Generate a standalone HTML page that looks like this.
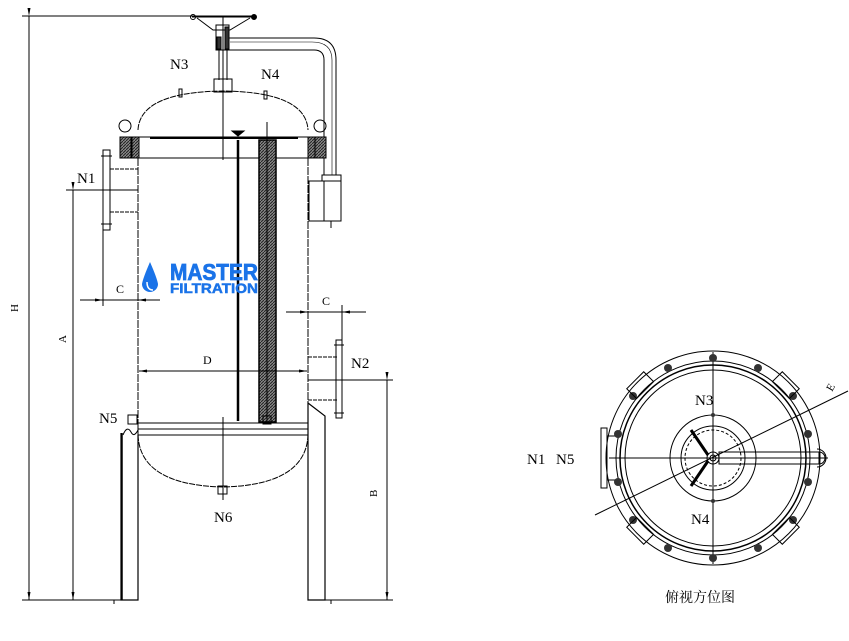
<!DOCTYPE html>
<html><head><meta charset="utf-8"><style>
body{margin:0;background:#fff;}
svg{display:block;font-family:"Liberation Serif","Noto Serif CJK SC",serif;}
</style></head><body>
<svg width="849" height="641" viewBox="0 0 849 641" xmlns="http://www.w3.org/2000/svg">
<defs>
<pattern id="h" width="3" height="3" patternUnits="userSpaceOnUse"><rect width="3" height="3" fill="#888"/><path d="M0 3L3 0" stroke="#222" stroke-width="1"/></pattern>
<marker id="a" markerWidth="8" markerHeight="6" refX="8" refY="3" orient="auto"><path d="M0 1.5L8 3L0 4.5" fill="#000"/></marker>
</defs>
<g stroke="#000" fill="none" stroke-width="1">
<line x1="22" y1="16" x2="255" y2="16"/>
<line x1="29" y1="16" x2="29" y2="600" marker-start="url(#a)" marker-end="url(#a)"/>
<line x1="22" y1="600" x2="138" y2="600"/>
<line x1="308" y1="600" x2="393" y2="600"/>
<line x1="66" y1="190" x2="138" y2="190"/>
<line x1="73" y1="190" x2="73" y2="600" marker-start="url(#a)" marker-end="url(#a)"/>
<line x1="308" y1="380" x2="393" y2="380"/>
<line x1="387" y1="380" x2="387" y2="600" marker-start="url(#a)" marker-end="url(#a)"/>
<path d="M192 17 L255 17 M197 18 L213 30 L230 30 L250 18"/>
<circle cx="193" cy="17" r="2.5"/><circle cx="254" cy="17" r="2.5" fill="#000"/>
<rect x="216" y="25" width="13" height="25"/>
<rect x="217" y="37" width="4" height="12" fill="#333"/><rect x="225" y="27" width="4" height="22" fill="#333"/>
<line x1="219" y1="50" x2="219" y2="80"/><line x1="227" y1="50" x2="227" y2="80"/>
<rect x="214" y="79" width="18" height="13"/>
<path d="M229 38 L314 38 Q336 38 336 60 L336 175"/>
<path d="M229 50 L314 50 Q324 50 324 60 L324 175"/>
<path d="M230 42 L312 42 Q332 42 332 60 L332 175" stroke-width="0.6"/>
<rect x="322" y="175" width="19" height="6"/>
<rect x="309" y="181" width="32" height="40"/>
<line x1="324" y1="181" x2="324" y2="221"/>
<line x1="331" y1="221" x2="331" y2="228"/>
<path d="M138 130 Q140 92 223 91 Q306 92 308 130" stroke-dasharray="6,1"/>
<rect x="179" y="89" width="3" height="8"/><rect x="264" y="91" width="3" height="8"/>
<line x1="223" y1="16" x2="223" y2="160"/>
<rect x="120" y="137" width="206" height="21"/>
<line x1="138" y1="137" x2="138" y2="158"/><line x1="308" y1="137" x2="308" y2="158"/>
<rect x="132" y="137" width="7" height="21" fill="url(#h)"/><rect x="308" y="137" width="7" height="21" fill="url(#h)"/>
<rect x="120" y="137" width="11" height="21" fill="url(#h)"/><rect x="315" y="137" width="11" height="21" fill="url(#h)"/>
<circle cx="125" cy="126" r="6"/><circle cx="320" cy="126" r="6"/>
<line x1="150" y1="138" x2="298" y2="138" stroke-width="2"/>
<path d="M232 131 L244 131 L238 136Z" fill="#000"/>
<line x1="138" y1="158" x2="138" y2="425" stroke-dasharray="8,1"/>
<line x1="308" y1="158" x2="308" y2="425" stroke-dasharray="8,1"/>
<line x1="238" y1="140" x2="238" y2="421" stroke-width="2.5"/>
<rect x="259" y="140" width="17" height="282" fill="url(#h)" stroke-width="1.5"/>
<line x1="267" y1="140" x2="267" y2="422"/>
<line x1="267" y1="122" x2="267" y2="140"/>
<rect x="263" y="416" width="8" height="8"/>
<rect x="138" y="423" width="170" height="12"/>
<line x1="138" y1="429" x2="308" y2="429"/>
<path d="M138 435 Q140 485 223 487 Q306 485 308 435" stroke-dasharray="6,1"/>
<rect x="218" y="486" width="9" height="8"/>
<line x1="223" y1="417" x2="223" y2="500"/>
<rect x="128" y="415" width="9" height="9"/>
<path d="M123 435 Q127 425 131 432 Q134 438 138 430"/>
<path d="M121 433 L121 600 L138 600 L138 435" stroke-width="1.2"/>
<line x1="122" y1="433" x2="122" y2="600" stroke-width="1.5"/>
<path d="M308 403 L325 416 L325 600 L308 600 Z" stroke-width="1.2"/>
<line x1="114" y1="600" x2="114" y2="604"/><line x1="331" y1="600" x2="331" y2="604"/>
<rect x="103" y="150" width="7" height="80"/>
<line x1="101" y1="156" x2="112" y2="156"/><line x1="101" y1="224" x2="112" y2="224"/>
<path d="M110 169 L138 169 M110 212 L138 212" stroke-dasharray="4,1"/>
<rect x="336" y="340" width="6" height="78"/>
<line x1="334" y1="345" x2="344" y2="345"/><line x1="334" y1="413" x2="344" y2="413"/>
<path d="M308 357 L337 357 M308 400 L337 400" stroke-dasharray="4,1"/>
<line x1="80" y1="300" x2="103" y2="300" marker-end="url(#a)"/>
<line x1="103" y1="300" x2="160" y2="300"/>
<line x1="160" y1="300" x2="138" y2="300" marker-end="url(#a)"/>
<line x1="103" y1="230" x2="103" y2="306"/>
<line x1="286" y1="312" x2="308" y2="312" marker-end="url(#a)"/>
<line x1="308" y1="312" x2="366" y2="312"/>
<line x1="366" y1="312" x2="342" y2="312" marker-end="url(#a)"/>
<line x1="342" y1="305" x2="342" y2="340"/>
<line x1="223" y1="371" x2="139" y2="371" marker-end="url(#a)"/>
<line x1="223" y1="371" x2="307" y2="371" marker-end="url(#a)"/>

<g transform="translate(713,458)">
<circle r="107"/><circle r="97"/><circle r="93" stroke-width="1.5"/><circle r="88"/>
<circle r="43"/><circle r="32"/><circle r="28" stroke-dasharray="3,2"/>
<circle r="6"/><circle r="3"/>
<line x1="-104" y1="0" x2="115" y2="0"/>
<line x1="0" y1="-106" x2="0" y2="106"/>
<rect x="6" y="-6" width="100" height="12"/>
<path d="M106 -6 A6 6 0 0 1 106 6" />
<path d="M104 -9 A9 9 0 0 1 104 9"/>
<line x1="-5" y1="-3" x2="-22" y2="-28" stroke-width="3"/>
<line x1="-5" y1="3" x2="-22" y2="28" stroke-width="3"/>
<line x1="-118" y1="57" x2="135" y2="-67"/>
<rect x="-112" y="-30" width="6" height="60"/>
<line x1="-106" y1="-22" x2="-93" y2="-22"/><line x1="-106" y1="22" x2="-93" y2="22"/>
<g fill="#333" stroke="none">
<circle cx="0" cy="-100" r="4"/><circle cx="0" cy="100" r="4"/>
<circle cx="-45" cy="-90" r="4"/><circle cx="45" cy="-90" r="4"/>
<circle cx="-45" cy="90" r="4"/><circle cx="45" cy="90" r="4"/>
<circle cx="-80" cy="-62" r="4"/><circle cx="80" cy="-62" r="4"/>
<circle cx="-80" cy="62" r="4"/><circle cx="80" cy="62" r="4"/>
<circle cx="-95" cy="-24" r="4"/><circle cx="95" cy="-24" r="4"/>
<circle cx="-95" cy="24" r="4"/><circle cx="95" cy="24" r="4"/>
<circle cx="0" cy="-43" r="2"/><circle cx="0" cy="43" r="2"/>
</g>
<g transform="rotate(-45)"><rect x="-12" y="-110" width="24" height="14"/></g>
<g transform="rotate(45)"><rect x="-12" y="-110" width="24" height="14"/></g>
<g transform="rotate(135)"><rect x="-12" y="-110" width="24" height="14"/></g>
<g transform="rotate(-135)"><rect x="-12" y="-110" width="24" height="14"/></g>
</g>
</g>
<g font-size="15" fill="#000">
<text x="170" y="69">N3</text>
<text x="261" y="79">N4</text>
<text x="77" y="183">N1</text>
<text x="351" y="368">N2</text>
<text x="99" y="423">N5</text>
<text x="214" y="522">N6</text>
<text x="116" y="293" font-size="12">C</text>
<text x="322" y="305" font-size="12">C</text>
<text x="203" y="364" font-size="12">D</text>
<text x="695" y="405">N3</text>
<text x="691" y="524">N4</text>
<text x="527" y="464">N1</text>
<text x="556" y="464">N5</text>
<text font-size="11" transform="translate(18,312) rotate(-90)">H</text>
<text font-size="11" transform="translate(66,343) rotate(-90)">A</text>
<text font-size="11" transform="translate(377,497) rotate(-90)">B</text>
<text font-size="11" transform="translate(832,392) rotate(-60)">E</text>
<text x="665" y="602" font-size="14">俯视方位图</text>
</g>
<path d="M150 262 Q143 278 142 284 A8 8 0 0 0 158 284 Q157 278 150 262Z" fill="#1a73e8"/>
<path d="M147 282 Q147 290 153 290" stroke="#fff" stroke-width="1.5" fill="none"/>
<text x="170" y="280" font-family="Liberation Sans,sans-serif" font-weight="bold" font-size="23" fill="#1a73e8" stroke="#1a73e8" stroke-width="0.8" textLength="88" lengthAdjust="spacingAndGlyphs">MASTER</text>
<text x="170" y="293" font-family="Liberation Sans,sans-serif" font-weight="bold" font-size="14" fill="#1a73e8" stroke="#1a73e8" stroke-width="0.5" textLength="88" lengthAdjust="spacingAndGlyphs">FILTRATION</text>
</svg>
</body></html>
